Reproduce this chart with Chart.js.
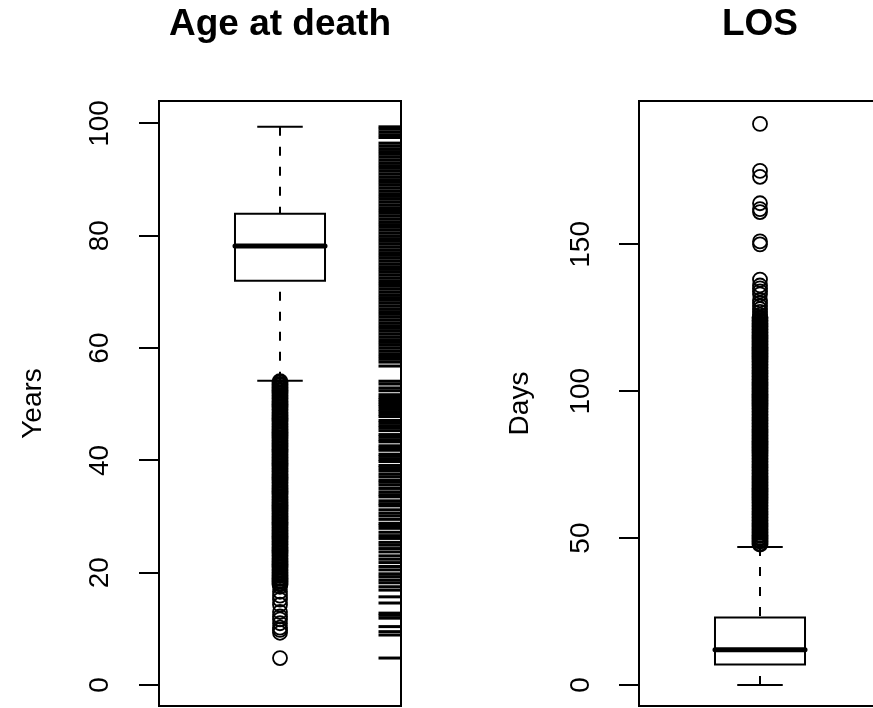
<!DOCTYPE html>
<html lang="en">
<head>
<meta charset="UTF-8">
<title>Age at death / LOS</title>
<script src="https://cdn.jsdelivr.net/npm/chart.js"></script>
<style>
  html, body { margin: 0; padding: 0; background: #fff; overflow: hidden; }
  body { width: 873px; height: 708px; position: relative; }
  canvas { position: absolute; top: 0; }
  #ageChart { left: 0; }
  #losChart { left: 436px; }
</style>
</head>
<body>
<canvas id="ageChart" width="420" height="708"></canvas>
<canvas id="losChart" width="460" height="708"></canvas>
<script>
// five-number summaries: lower whisker, Q1, median, Q3, upper whisker
const ageStats = [54.2, 72.0, 78.2, 83.9, 99.4];
const losStats = [0, 7, 12, 23, 47];

const ageTicks = [0, 20, 40, 60, 80, 100];
const losTicks = [0, 50, 100, 150];

// outliers: a solid band of overlapping circles plus the loose ones
const ageOutlierBand = [54.0, 53.5, 53.0, 52.5, 52.0, 51.5, 51.0, 50.5, 50.0, 49.5, 49.0, 48.5,
  48.0, 47.5, 47.0, 46.5, 46.0, 45.5, 45.0, 44.5, 44.0, 43.5, 43.0, 42.5, 42.0, 41.5, 41.0,
  40.5, 40.0, 39.5, 39.0, 38.5, 38.0, 37.5, 37.0, 36.5, 36.0, 35.5, 35.0, 34.5, 34.0, 33.5,
  33.0, 32.5, 32.0, 31.5, 31.0, 30.5, 30.0, 29.5, 29.0, 28.5, 28.0, 27.5, 27.0, 26.5, 26.0,
  25.5, 25.0, 24.5, 24.0, 23.5, 23.0, 22.5, 22.0, 21.5, 21.0, 20.5, 20.0, 19.5, 19.0, 18.5, 18.0];
const ageOutliers = [17.5, 16.6, 15.9, 15.2, 14.3, 13.0, 12.2, 11.7, 11.0, 10.2, 9.8, 9.3, 4.8];

const losOutlierBand = [48, 49, 50, 51, 52, 53, 54, 55, 56, 57, 58, 59, 60, 61, 62, 63, 64, 65,
  66, 67, 68, 69, 70, 71, 72, 73, 74, 75, 76, 77, 78, 79, 80, 81, 82, 83, 84, 85, 86, 87, 88,
  89, 90, 91, 92, 93, 94, 95, 96, 97, 98, 99, 100, 101, 102, 103, 104, 105, 106, 107, 108,
  109, 110, 111, 112, 113, 114, 115, 116, 117, 118, 119, 120, 121, 122, 123, 124, 125];
const losOutliers = [126, 127, 128, 129, 130, 131, 133, 134, 135, 136, 138,
  150, 151, 161, 162, 164, 173, 175, 191];

// rug of ages on the right edge of the left panel
const ageRugDense = [57.5, 58.0, 58.5, 59.0, 59.5, 60.0, 60.5, 61.0, 61.5, 62.0, 62.5, 63.0,
  63.5, 64.0, 64.5, 65.0, 65.5, 66.0, 66.5, 67.0, 67.5, 68.0, 68.5, 69.0, 69.5, 70.0, 70.5,
  71.0, 71.5, 72.0, 72.5, 73.0, 73.5, 74.0, 74.5, 75.0, 75.5, 76.0, 76.5, 77.0, 77.5, 78.0,
  78.5, 79.0, 79.5, 80.0, 80.5, 81.0, 81.5, 82.0, 82.5, 83.0, 83.5, 84.0, 84.5, 85.0, 85.5,
  86.0, 86.5, 87.0, 87.5, 88.0, 88.5, 89.0, 89.5, 90.0, 90.5, 91.0, 91.5, 92.0, 92.5, 93.0,
  93.5, 94.0, 94.5, 95.0, 95.5, 96.0, 96.5, 97.5, 98.0, 98.5, 99.0, 99.4];
const ageRugSparse = [56.8, 54.1, 53.6, 52.9, 52.4, 51.7, 51.2, 50.8, 50.4, 50.0, 49.6, 49.1,
  48.7, 48.2, 47.8, 47.1, 46.7, 46.2, 45.8, 45.3, 44.6, 44.2, 43.7, 43.3, 42.6, 42.2, 41.8,
  41.1, 40.7, 40.2, 39.8, 39.1, 38.7, 38.2, 37.6, 37.1, 36.5, 36.1, 35.6, 35.0, 34.4, 33.9,
  33.5, 32.8, 32.3, 31.9, 31.2, 30.6, 30.1, 29.5, 28.8, 28.4, 27.9, 27.2, 26.6, 26.1, 25.4,
  24.9, 24.3, 23.7, 23.0, 22.4, 21.8, 21.1, 20.5, 19.8, 19.3, 18.7, 18.2, 17.5, 16.9, 15.7,
  14.6, 12.8, 12.4, 11.9, 10.4, 9.5, 8.9, 4.8];

const BOX_HALF = 0.186;
const CAP_HALF = 0.094;
const RUG_X = 1.4525;
const FONT = '"Liberation Sans", Arial, Helvetica, sans-serif';

const base = { type: 'scatter', showLine: true, borderColor: '#000', borderWidth: 2,
  pointRadius: 0, fill: false, borderJoinStyle: 'miter' };

function circles(values, width) {
  return { type: 'scatter', showLine: false, pointStyle: 'circle', pointRadius: 7,
    pointBorderWidth: width, pointBorderColor: '#000', pointBackgroundColor: 'rgba(0,0,0,0)',
    data: values.map(v => ({ x: 1, y: v })) };
}

function boxDatasets(stats, band, outliers) {
  const [lo, q1, med, q3, hi] = stats;
  const l = 1 - BOX_HALF, r = 1 + BOX_HALF;
  return [
    { ...base, borderWidth: 5, borderCapStyle: 'round',
      data: [{ x: l, y: med }, { x: r, y: med }] },
    { ...base, data: [{ x: l, y: q1 }, { x: r, y: q1 }, { x: r, y: q3 }, { x: l, y: q3 },
      { x: l, y: q1 }, { x: r, y: q1 }] },
    { ...base, borderDash: [9, 11], data: [{ x: 1, y: hi }, { x: 1, y: q3 }] },
    { ...base, borderDash: [9, 11], data: [{ x: 1, y: lo }, { x: 1, y: q1 }] },
    { ...base, data: [{ x: 1 - CAP_HALF, y: hi }, { x: 1 + CAP_HALF, y: hi }] },
    { ...base, data: [{ x: 1 - CAP_HALF, y: lo }, { x: 1 + CAP_HALF, y: lo }] },
    circles(band, 3),
    circles(outliers, 1.8)
  ];
}

function rugDataset(values, width) {
  return { type: 'scatter', showLine: false, pointStyle: 'line', pointRadius: 11,
    pointBorderWidth: width, pointBorderColor: '#000',
    data: values.map(v => ({ x: RUG_X, y: v })) };
}

// titles, rotated tick labels, axis title and the box round the plot
const rLabels = {
  id: 'rLabels',
  afterDraw(chart, args, opts) {
    const { ctx, chartArea: a, scales: { y } } = chart;
    ctx.save();
    ctx.strokeStyle = '#000';
    ctx.lineWidth = 2;
    ctx.strokeRect(a.left, a.top, a.right - a.left, a.bottom - a.top);
    ctx.fillStyle = '#000';
    ctx.textBaseline = 'alphabetic';
    ctx.textAlign = 'center';
    ctx.font = 'bold 37px ' + FONT;
    ctx.fillText(opts.title, (a.left + a.right) / 2, opts.titleY);
    ctx.font = '28px ' + FONT;
    opts.ticks.forEach(v => {
      ctx.save();
      ctx.translate(opts.tickX, y.getPixelForValue(v));
      ctx.rotate(-Math.PI / 2);
      ctx.fillText(String(v), 0, 0);
      ctx.restore();
    });
    ctx.translate(opts.axisX, (a.top + a.bottom) / 2);
    ctx.rotate(-Math.PI / 2);
    ctx.fillText(opts.axisTitle, 0, 0);
    ctx.restore();
  }
};

function makeChart(id, datasets, yMin, yMax, ticks, axisWidth, padRight, labels) {
  return new Chart(document.getElementById(id), {
    type: 'scatter',
    data: { datasets },
    options: {
      responsive: false,
      animation: false,
      events: [],
      layout: { autoPadding: false, padding: { left: 0, top: 101, right: padRight, bottom: 2 } },
      scales: {
        x: { type: 'linear', min: 0.5, max: 1.5, display: false },
        y: {
          type: 'linear', min: yMin, max: yMax,
          afterBuildTicks: s => { s.ticks = ticks.map(v => ({ value: v })); },
          afterFit: s => { s.width = axisWidth; },
          ticks: { display: false },
          border: { display: false },
          grid: { drawOnChartArea: false, drawTicks: true, tickLength: 20, color: '#000', lineWidth: 2 }
        }
      },
      plugins: {
        legend: { display: false },
        tooltip: { enabled: false },
        rLabels: labels
      }
    },
    plugins: [rLabels]
  });
}

makeChart('ageChart',
  [...boxDatasets(ageStats, ageOutlierBand, ageOutliers), rugDataset(ageRugDense, 3), rugDataset(ageRugSparse, 3)],
  -3.74, 104.0, ageTicks, 159, 19,
  { title: 'Age at death', titleY: 35, ticks: ageTicks, tickX: 108, axisTitle: 'Years', axisX: 41 });

makeChart('losChart', boxDatasets(losStats, losOutlierBand, losOutliers),
  -7.15, 198.8, losTicks, 203, 15,
  { title: 'LOS', titleY: 35, ticks: losTicks, tickX: 153, axisTitle: 'Days', axisX: 92 });
</script>
</body>
</html>
